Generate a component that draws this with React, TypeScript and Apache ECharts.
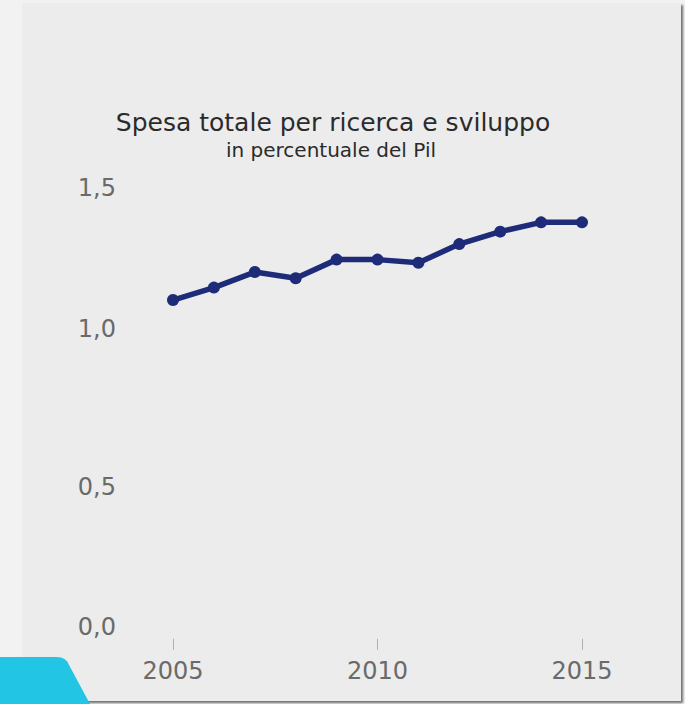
import React, { useEffect, useRef } from "react";
import * as echarts from "echarts";

const years = [2005, 2006, 2007, 2008, 2009, 2010, 2011, 2012, 2013, 2014, 2015];
const values = [1.09, 1.13, 1.18, 1.16, 1.22, 1.22, 1.21, 1.27, 1.31, 1.34, 1.34];
const yTicks = [0, 0.5, 1.0, 1.5];
const xTicks = [2005, 2010, 2015];
const titleText = "Spesa totale per ricerca e sviluppo";
const subtitleText = "in percentuale del Pil";

const FONT = "'DejaVu Sans', Verdana, sans-serif";

export default function App() {
  const ref = useRef<HTMLDivElement>(null);
  useEffect(() => {
    if (!ref.current) return;
    echarts.graphic.registerShape(
      "cyanTab",
      echarts.graphic.extendPath("M0 0 L57 0 Q66 0 69 8 L90 47 L0 47 Z", {})
    );
    const chart = echarts.init(ref.current, null, { renderer: "svg" });
    const shiftStyles: Record<string, any> = {
      s0: { padding: [0, 0, 24, 0] },
      s1: { padding: [7, 0, 0, 0] },
      s2: { padding: [2, 0, 0, 0] },
      s3: { padding: [31, 0, 0, 0] },
    };
    Object.keys(shiftStyles).forEach((k) => {
      shiftStyles[k] = { ...shiftStyles[k], fontSize: 24, fontFamily: FONT, color: "#6a6a6a" };
    });
    chart.setOption({
      animation: false,
      backgroundColor: "#f2f2f2",
      graphic: [
        {
          type: "rect",
          z: -10,
          shape: { x: 22, y: 3, width: 659, height: 698 },
          style: {
            fill: "#ececec",
            shadowColor: "rgba(0,0,0,0.55)",
            shadowBlur: 2,
            shadowOffsetX: 2,
            shadowOffsetY: 2,
          },
        },
        {
          type: "cyanTab",
          x: 0,
          y: 657,
          z: 10,
          style: { fill: "#22c5e3" },
        },
      ],
      title: [
        {
          text: titleText,
          left: 328,
          top: 105,
          textAlign: "center",
          textStyle: { fontFamily: FONT, fontSize: 25, fontWeight: "normal", color: "#2b2b2b" },
        },
        {
          text: subtitleText,
          left: 326,
          top: 135,
          textAlign: "center",
          textStyle: { fontFamily: FONT, fontSize: 20, fontWeight: "normal", color: "#2b2b2b" },
        },
      ],
      grid: { left: 173, right: 103, top: 172.6, bottom: 65.2, containLabel: false },
      xAxis: {
        type: "value",
        min: 2005,
        max: 2015,
        interval: 5,
        splitLine: { show: false },
        axisLine: { show: false },
        axisTick: { show: true, length: 11, lineStyle: { color: "#b0b0b0", width: 1 } },
        axisLabel: {
          margin: 20,
          fontSize: 24,
          fontFamily: FONT,
          color: "#6a6a6a",
          formatter: (v: number) => (xTicks.includes(v) ? String(v) : ""),
        },
      },
      yAxis: {
        type: "value",
        min: 0,
        max: 1.5,
        interval: 0.5,
        splitLine: { show: false },
        axisLine: { show: false },
        axisTick: { show: false },
        axisLabel: {
          margin: 57,
          fontSize: 24,
          fontFamily: FONT,
          color: "#6a6a6a",
          formatter: (v: number) => {
            const idx = yTicks.findIndex((t) => Math.abs(t - v) < 1e-6);
            const label = v.toFixed(1).replace(".", ",");
            return idx >= 0 ? `{s${idx}|${label}}` : label;
          },
          rich: shiftStyles,
        },
      },
      series: [
        {
          type: "line",
          data: years.map((y, i) => [y, values[i]]),
          symbol: "circle",
          symbolSize: 12,
          itemStyle: { color: "#1e2b78" },
          lineStyle: { color: "#1e2b78", width: 5.5 },
        },
      ],
    });
    return () => chart.dispose();
  }, []);
  return (
    <div
      ref={ref}
      style={{ position: "fixed", left: 0, top: 0, width: 685, height: 704 }}
    />
  );
}
